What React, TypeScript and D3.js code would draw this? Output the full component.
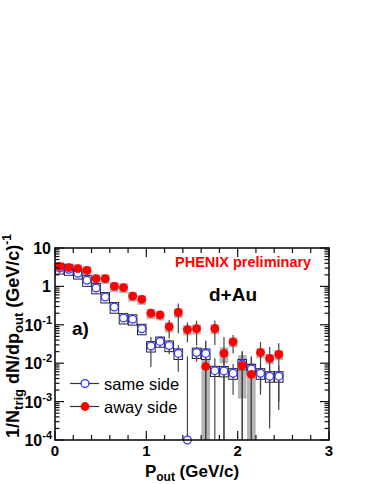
import React, { useEffect, useRef } from 'react';
import * as d3 from 'd3';

// pout bins (GeV/c)
const pout = [0.05, 0.15, 0.25, 0.35, 0.45, 0.55, 0.65, 0.75, 0.85, 0.95, 1.05, 1.15, 1.25,
  1.35, 1.45, 1.55, 1.65, 1.75, 1.85, 1.95, 2.05, 2.15, 2.25, 2.35, 2.45];

// away side (red, filled)
const awayVal = [3.3, 3.1, 2.9, 2.6, 1.6, 1.6, 1.0, 0.93, 0.56, 0.46, 0.20, 0.18, 0.089,
  0.21, 0.075, 0.079, 0.0082, 0.080, 0.018, 0.036, 0.0087, 0.0051, 0.019, 0.0134, 0.017];
const awayStat = [0.05, 0.05, 0.05, 0.05, 0.03, 0.03, 0.02, 0.02, 0.015, 0.012, 0.03, 0.03, 0.045,
  0.15, 0.04, 0.05, 0.03, 0.05, 0.03, 0.018, 0.012, 0.01, 0.017, 0.013, 0.016];
const awaySys = [1.0, 0.9, 0.85, 0.75, 0.45, 0.45, 0.3, 0.27, 0.16, 0.13, 0.06, 0.05, 0.026,
  0.06, 0.022, 0.023, 0.0082, 0.023, 0.008, 0.01, 0.0075, 0.0051, 0.0055, 0.004, 0.005];

// same side (blue, open)
const sameVal = [3.0, 2.8, 2.2, 1.45, 0.91, 0.53, 0.29, 0.15, 0.14, 0.079, 0.028, 0.037, 0.029,
  0.018, 0.0001, 0.019, 0.018, 0.0064, 0.0063, 0.0055, 0.0096, 0.0071, 0.0055, 0.0046, 0.0046];
const sameStat = [0.04, 0.04, 0.03, 0.02, 0.015, 0.01, 0.006, 0.004, 0.004, 0.003, 0.02, 0.012, 0.012,
  0.012, 0.015, 0.008, 0.018, 0.007, 0.0063, 0.004, 0.0096, 0.0071, 0.004, 0.0044, 0.004];
const sameSys = [0.9, 0.85, 0.65, 0.45, 0.27, 0.16, 0.09, 0.045, 0.042, 0.024, 0.0085, 0.011, 0.009,
  0.0055, 0, 0.0057, 0.0055, 0.0019, 0.0019, 0.0017, 0.0029, 0.0021, 0.0017, 0.0014, 0.0014];

const xTicks = [0, 1, 2, 3];
const yExps = [1, 0, -1, -2, -3, -4];

const FONT = '"Liberation Sans", Arial, Helvetica, sans-serif';

export default function App() {
  const ref = useRef<SVGSVGElement>(null);

  useEffect(() => {
    const W = 374, H = 484;
    const L = 55, R = 329, T = 248, B = 440;
    const svg = d3.select(ref.current);
    svg.selectAll('*').remove();

    const x = d3.scaleLinear().domain([0, 3]).range([L, R]);
    const y = d3.scaleLog().domain([1e-4, 10]).range([B, T]);
    const yc = (v: number) => (v <= 1e-4 ? B + 20 : y(v)); // below axis -> off frame

    svg.append('defs').append('clipPath').attr('id', 'frame')
      .append('rect').attr('x', L).attr('y', T).attr('width', R - L).attr('height', B - T);

    const away = pout.map((p, i) => ({ p, v: awayVal[i], e: awayStat[i], s: awaySys[i] }));
    const same = pout.map((p, i) => ({ p, v: sameVal[i], e: sameStat[i], s: sameSys[i] }));

    const data = svg.append('g').attr('clip-path', 'url(#frame)');
    const hw = 0.047;

    // systematic boxes
    data.selectAll('.sysA').data(away).enter().append('rect')
      .attr('x', (d) => x(d.p - hw))
      .attr('width', x(2 * hw) - x(0))
      .attr('y', (d) => y(d.v + d.s))
      .attr('height', (d) => yc(d.v - d.s) - y(d.v + d.s))
      .attr('fill', '#b4b4b4');
    data.selectAll('.sysS').data(same.filter((d) => d.s > 0)).enter().append('rect')
      .attr('x', (d) => x(d.p - hw))
      .attr('width', x(2 * hw) - x(0))
      .attr('y', (d) => y(d.v + d.s))
      .attr('height', (d) => yc(d.v - d.s) - y(d.v + d.s))
      .attr('fill', 'white')
      .attr('stroke', '#222')
      .attr('stroke-width', 1);

    // statistical error bars
    [...away, ...same].forEach((d) => {
      data.append('line')
        .attr('x1', x(d.p)).attr('x2', x(d.p))
        .attr('y1', y(d.v + d.e)).attr('y2', yc(d.v - d.e))
        .attr('stroke', '#444').attr('stroke-width', 1.2);
    });

    // markers
    svg.append('g').selectAll('circle').data(same).enter().append('circle')
      .attr('cx', (d) => x(d.p)).attr('cy', (d) => y(d.v)).attr('r', 3.9)
      .attr('fill', 'white').attr('stroke', '#3333ff').attr('stroke-width', 1.3);
    svg.append('g').selectAll('circle').data(away).enter().append('circle')
      .attr('cx', (d) => x(d.p)).attr('cy', (d) => y(d.v)).attr('r', 4.4)
      .attr('fill', '#ff0000');

    // frame + ticks
    const ax = svg.append('g').attr('stroke', '#111').attr('stroke-width', 1.2);
    ax.append('rect').attr('x', L).attr('y', T).attr('width', R - L).attr('height', B - T)
      .attr('fill', 'none').attr('stroke-width', 1.6);
    d3.range(0, 3.001, 0.1).forEach((t) => {
      const major = Math.abs(t - Math.round(t)) < 1e-6;
      const mid = Math.abs(t * 5 - Math.round(t * 5)) < 1e-6;
      const len = major ? 9 : mid ? 5 : 0;
      if (!len) return;
      ax.append('line').attr('x1', x(t)).attr('x2', x(t)).attr('y1', B).attr('y2', B - len);
      ax.append('line').attr('x1', x(t)).attr('x2', x(t)).attr('y1', T).attr('y2', T + len);
    });
    yExps.forEach((e) => {
      const base = Math.pow(10, e);
      ax.append('line').attr('x1', L).attr('x2', L + 9).attr('y1', y(base)).attr('y2', y(base));
      ax.append('line').attr('x1', R).attr('x2', R - 9).attr('y1', y(base)).attr('y2', y(base));
      if (e === 1) return;
      d3.range(2, 10).forEach((m) => {
        const yy = y(m * base);
        ax.append('line').attr('x1', L).attr('x2', L + 4.5).attr('y1', yy).attr('y2', yy);
        ax.append('line').attr('x1', R).attr('x2', R - 4.5).attr('y1', yy).attr('y2', yy);
      });
    });

    // tick labels
    const lab = svg.append('g').attr('font-family', FONT).attr('font-weight', 'bold').attr('fill', '#000');
    xTicks.forEach((t) => {
      lab.append('text').attr('x', x(t)).attr('y', 455.5).attr('text-anchor', 'middle')
        .attr('font-size', 15).text(String(t));
    });
    yExps.forEach((e) => {
      const tx = lab.append('text').attr('y', y(Math.pow(10, e)) + 6).attr('text-anchor', 'end')
        .attr('font-size', 16);
      if (e === 0) { tx.attr('x', 51).text('1'); return; }
      if (e === 1) { tx.attr('x', 51).text('10'); return; }
      tx.attr('x', 52);
      tx.append('tspan').text('10');
      tx.append('tspan').attr('font-size', 11).attr('dy', -7).text(String(e));
    });

    // axis titles
    const xt = lab.append('text').attr('x', x(1.5)).attr('y', 477).attr('text-anchor', 'middle')
      .attr('font-size', 17);
    xt.append('tspan').text('P');
    xt.append('tspan').attr('font-size', 12).attr('dy', 4).text('out');
    xt.append('tspan').attr('dy', -4).text(' (GeV/c)');

    const yt = lab.append('text').attr('transform', 'translate(19,336) rotate(-90)')
      .attr('text-anchor', 'middle').attr('font-size', 18);
    yt.append('tspan').text('1/N');
    yt.append('tspan').attr('font-size', 13).attr('dy', 4).text('trig');
    yt.append('tspan').attr('dy', -4).text(' dN/dp');
    yt.append('tspan').attr('font-size', 13).attr('dy', 4).text('out');
    yt.append('tspan').attr('dy', -4).text(' (GeV/c)');
    yt.append('tspan').attr('font-size', 12).attr('dy', -8).text('-1');

    // annotations
    lab.append('text').attr('x', 175).attr('y', 267).attr('font-size', 14.5).attr('fill', '#ff0000')
      .text('PHENIX preliminary');
    lab.append('text').attr('x', 209).attr('y', 301).attr('font-size', 19).text('d+Au');
    lab.append('text').attr('x', 72).attr('y', 335).attr('font-size', 19).text('a)');

    // legend
    const leg = svg.append('g').attr('font-family', FONT);
    [{ t: 'same side', yy: 383.5, open: true }, { t: 'away side', yy: 406.5, open: false }].forEach((d) => {
      leg.append('line').attr('x1', 70).attr('x2', 99).attr('y1', d.yy).attr('y2', d.yy)
        .attr('stroke', '#333').attr('stroke-width', 1.2);
      leg.append('circle').attr('cx', 85).attr('cy', d.yy).attr('r', d.open ? 3.9 : 4.4)
        .attr('fill', d.open ? 'white' : '#ff0000')
        .attr('stroke', d.open ? '#3333ff' : 'none').attr('stroke-width', 1.3);
      leg.append('text').attr('x', 104).attr('y', d.yy + 6).attr('font-size', 16.5).text(d.t);
    });

    svg.attr('width', W).attr('height', H);
  }, []);

  return (
    <svg ref={ref} width={374} height={484}
      style={{ position: 'absolute', left: 0, top: 0, background: 'white' }} />
  );
}
